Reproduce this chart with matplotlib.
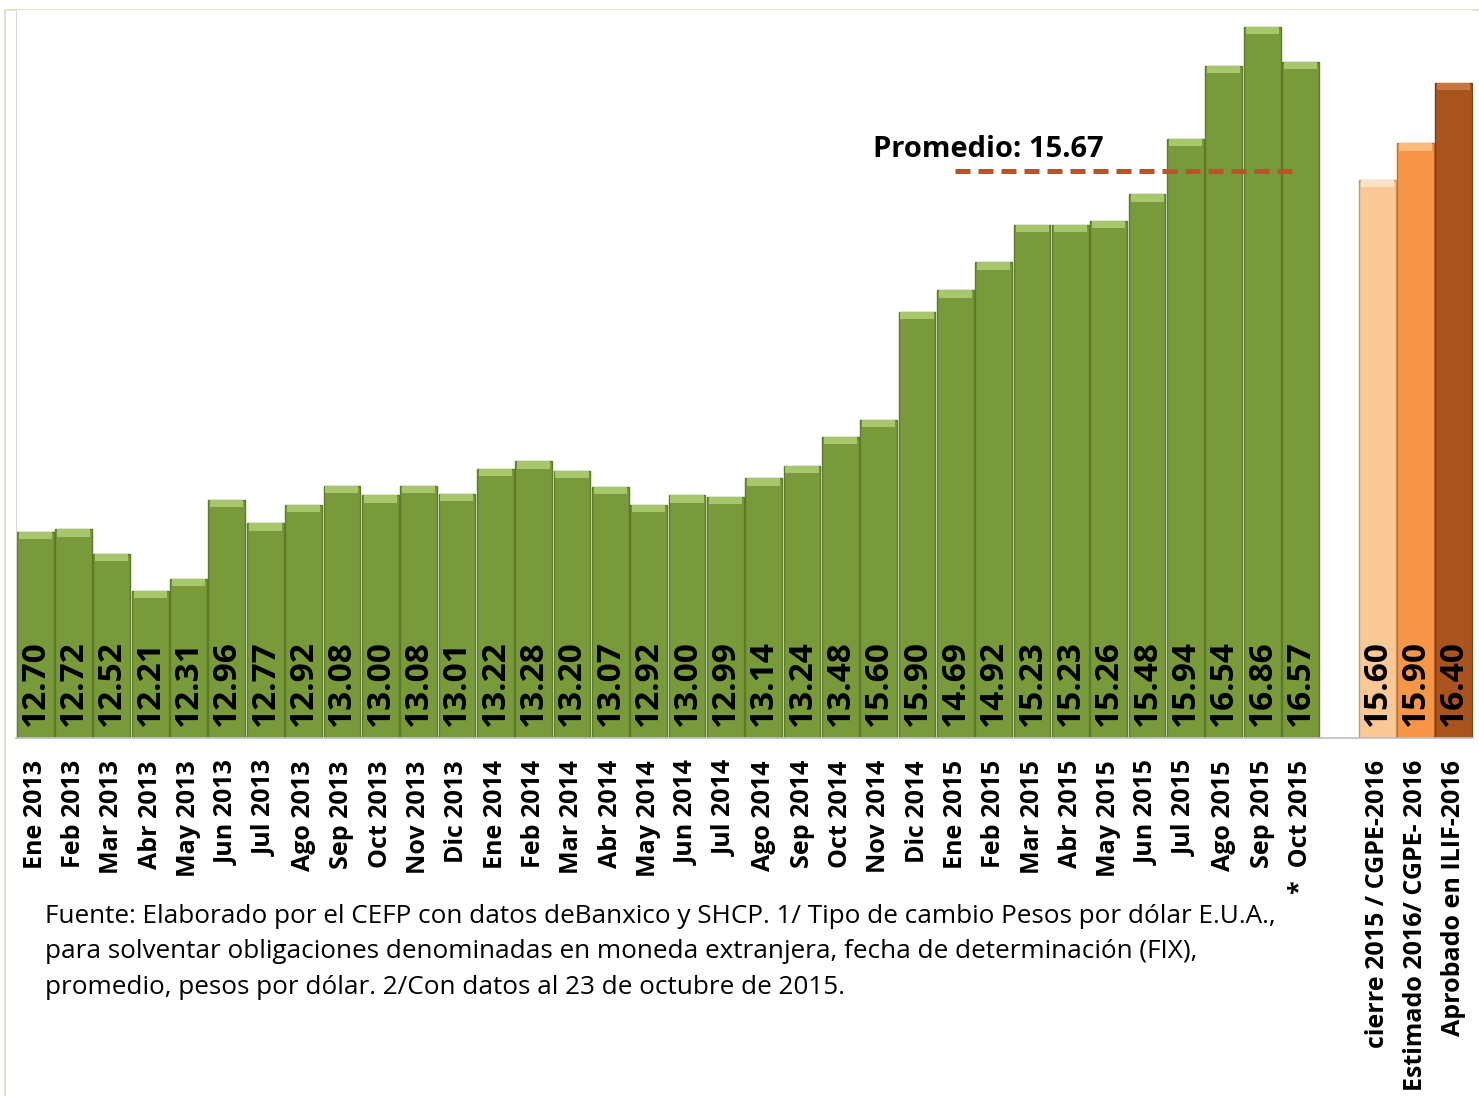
import matplotlib
matplotlib.use("Agg")
import matplotlib.pyplot as plt
from matplotlib.patches import Rectangle

# ---------------- data ----------------
months = ["Ene 2013", "Feb 2013", "Mar 2013", "Abr 2013", "May 2013", "Jun 2013",
          "Jul 2013", "Ago 2013", "Sep 2013", "Oct 2013", "Nov 2013", "Dic 2013",
          "Ene 2014", "Feb 2014", "Mar 2014", "Abr 2014", "May 2014", "Jun 2014",
          "Jul 2014", "Ago 2014", "Sep 2014", "Oct 2014", "Nov 2014", "Dic 2014",
          "Ene 2015", "Feb 2015", "Mar 2015", "Abr 2015", "May 2015", "Jun 2015",
          "Jul 2015", "Ago 2015", "Sep 2015", "*  Oct 2015"]
month_values = [12.70, 12.72, 12.52, 12.21, 12.31, 12.96, 12.77, 12.92, 13.08, 13.00,
                13.08, 13.01, 13.22, 13.28, 13.20, 13.07, 12.92, 13.00, 12.99, 13.14,
                13.24, 13.48, 13.62, 14.51, 14.69, 14.92, 15.23, 15.23, 15.26, 15.48,
                15.94, 16.54, 16.86, 16.57]
month_labels = ["12.70", "12.72", "12.52", "12.21", "12.31", "12.96", "12.77", "12.92",
                "13.08", "13.00", "13.08", "13.01", "13.22", "13.28", "13.20", "13.07",
                "12.92", "13.00", "12.99", "13.14", "13.24", "13.48", "15.60", "15.90",
                "14.69", "14.92", "15.23", "15.23", "15.26", "15.48", "15.94", "16.54",
                "16.86", "16.57"]

forecast_cats = ["cierre 2015 / CGPE-2016", "Estimado 2016/ CGPE- 2016", "Aprobado en ILIF-2016"]
forecast_values = [15.60, 15.90, 16.40]
forecast_labels = ["15.60", "15.90", "16.40"]

promedio = 15.67
promedio_text = "Promedio: 15.67"
footnote = ("Fuente: Elaborado por el CEFP con datos deBanxico y SHCP. 1/ Tipo de cambio Pesos por dólar E.U.A.,\n"
            "para solventar obligaciones denominadas en moneda extranjera, fecha de determinación (FIX),\n"
            "promedio, pesos por dólar. 2/Con datos al 23 de octubre de 2015.")

# ---------------- style ----------------
FONT = ["Open Sans", "DejaVu Sans"]
plt.rcParams["font.family"] = FONT
green = "#789A3A"
green_edge = "#5C7A2A"
green_cap = "#A8C66C"
fc_colors = ["#F9C896", "#F79646", "#A9531F"]
fc_edges = ["#C89A6A", "#C46F28", "#7C3A12"]
fc_caps = ["#FCE2C4", "#FBBB7C", "#C9753E"]

fig = plt.figure(figsize=(14.79, 10.96), dpi=100)
W, H = 1479, 1096
ax = fig.add_axes([16 / W, (H - 738) / H, (1473 - 16) / W, (738 - 10) / H])

n = len(months)
x_month = list(range(n))
x_fc = [n + 1 + i for i in range(len(forecast_cats))]
ymin, ymax = 11.0, 17.0
bw = 0.96

# green bars
ax.bar(x_month, [v - ymin for v in month_values], bottom=ymin, width=bw,
       color=green, edgecolor=green_edge, linewidth=1.0, zorder=2)
ax.bar(x_month, [0.06] * n, bottom=[v - 0.06 for v in month_values], width=bw * 0.9,
       color=green_cap, linewidth=0, zorder=3)
# forecast bars
ax.bar(x_fc, [v - ymin for v in forecast_values], bottom=ymin, width=bw,
       color=fc_colors, edgecolor=fc_edges, linewidth=1.0, zorder=2)
ax.bar(x_fc, [0.06] * len(x_fc), bottom=[v - 0.06 for v in forecast_values], width=bw * 0.9,
       color=fc_caps, linewidth=0, zorder=3)

# value labels inside bars
for xi, lab in zip(x_month + x_fc, month_labels + forecast_labels):
    ax.text(xi, ymin + 0.1, lab, rotation=90, ha="center", va="bottom",
            fontsize=24, fontweight="bold", color="black", zorder=4)

# average line
ax.plot([24.0, 33.0], [promedio, promedio], color="#B4552A", linewidth=3.6,
        linestyle=(0, (3.0, 1.6)), zorder=5, solid_capstyle="butt")
ax.text(21.85, 15.85, promedio_text, ha="left", va="center", fontsize=21,
        fontweight="bold", color="black", zorder=5)

ax.set_xlim(-0.5, n + 3.5)
ax.set_ylim(ymin, ymax)
ax.set_yticks([])
ax.set_xticks(x_month + x_fc)
ax.set_xticklabels(months + forecast_cats, rotation=90, fontsize=18,
                   fontweight="bold", va="top", ha="center")
ax.tick_params(axis="x", length=0, pad=16)
ax.set_facecolor("white")
for s in ["top", "right"]:
    ax.spines[s].set_visible(False)
ax.spines["left"].set_color("#D8D8D8")
ax.spines["bottom"].set_color("#BFBFBF")
ax.spines["bottom"].set_linewidth(1.2)

# outer chart frame (top-left)
fig.add_artist(Rectangle((5 / W, -0.5), 1.2, (H - 10) / H + 0.5, transform=fig.transFigure,
                         fill=False, edgecolor="#DCDCC4", linewidth=1.2, zorder=0))

fig.text(45 / W, (H - 952) / H, footnote, ha="left", va="center", fontsize=18.8,
         linespacing=1.55, color="black")

fig.savefig("out.png", dpi=100, facecolor="white")
